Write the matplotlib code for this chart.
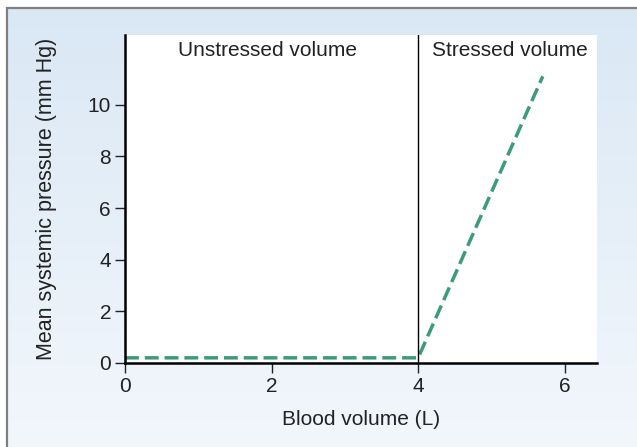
import numpy as np
import matplotlib
matplotlib.use("Agg")
import matplotlib.pyplot as plt
from matplotlib.patches import Rectangle

plt.rcParams['font.family'] = ['Liberation Sans', 'DejaVu Sans']

# pressure-volume relation: flat through unstressed volume, then rising
volume = [0.0, 4.0, 5.7]
pressure = [0.2, 0.2, 11.1]
unstressed_limit = 4.0
region_labels = ["Unstressed volume", "Stressed volume"]
region_x = [1.95, 5.25]
x_ticks = [0, 2, 4, 6]
y_ticks = [0, 2, 4, 6, 8, 10]

fig = plt.figure(figsize=(6.37, 4.47), dpi=100)
fig.patch.set_facecolor("white")

# shaded panel behind the plot
bg = fig.add_axes([8 / 637, 0, 1 - 8 / 637, 1 - 9 / 447], zorder=0)
top = np.array([0.855, 0.910, 0.960])
bottom = np.array([0.950, 0.968, 0.988])
t = np.linspace(0, 1, 256)[:, None]
grad = top * (1 - t) + bottom * t
bg.imshow(grad[:, None, :].repeat(2, axis=1), aspect="auto", extent=[0, 1, 0, 1])
bg.set_axis_off()
fig.add_artist(Rectangle((7 / 637, -0.01), 1.0, 1 - 8 / 447 + 0.01,
                         transform=fig.transFigure, fill=False,
                         edgecolor="#7f7f7f", linewidth=1.6, zorder=1))

ax = fig.add_axes([125 / 637, 84 / 447, 472 / 637, 328 / 447], zorder=2)
ax.set_facecolor("white")
ax.plot(volume, pressure, color="#3d9b7b", linewidth=2.5, dashes=(4.0, 1.7))
ax.axvline(unstressed_limit, color="black", linewidth=1.0)

for label, xpos in zip(region_labels, region_x):
    ax.text(xpos, 12.45, label, ha="center", va="top", fontsize=15, color="#222222")

ax.set_xlim(0, 6.44)
ax.set_ylim(0, 12.7)
ax.set_xticks(x_ticks)
ax.set_yticks(y_ticks)
ax.spines["top"].set_visible(False)
ax.spines["right"].set_visible(False)
ax.spines["left"].set_linewidth(1.8)
ax.spines["bottom"].set_linewidth(1.8)
ax.tick_params(direction="out", length=7, width=1.0, labelsize=15, colors="#222222", pad=3)
ax.set_xlabel("Blood volume (L)", fontsize=15, color="#222222", labelpad=10)
ax.set_ylabel("Mean systemic pressure (mm Hg)", fontsize=15.5, color="#222222", labelpad=22)

fig.savefig("out.png", dpi=100)
